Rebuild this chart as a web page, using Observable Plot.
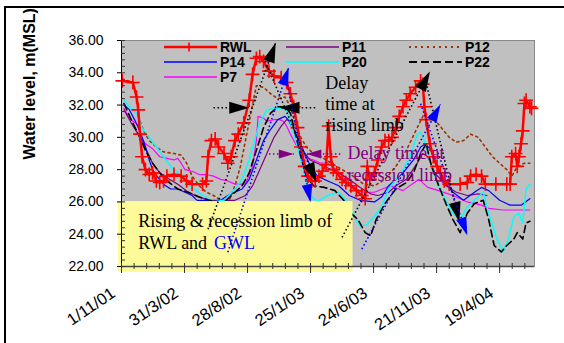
<!DOCTYPE html>
<html><head><meta charset="utf-8">
<script src="https://cdn.jsdelivr.net/npm/d3@7"></script>
<script src="https://cdn.jsdelivr.net/npm/@observablehq/plot@0.6"></script>
<style>
html,body{margin:0;padding:0;background:#fff;}
#chart{position:relative;width:564px;height:343px;overflow:hidden;}
#border{position:absolute;left:4px;top:6px;width:620px;height:400px;border:2px solid #000;pointer-events:none;}
svg{display:block;}
</style></head><body><div id="chart"><div id="border"></div></div>
<script>
// ---- data: [days since 1/11/2001, water level m(MSL)] ----
const startDate = "2001-11-01";
const tickLabels = ["1/11/01","31/3/02","28/8/02","25/1/03","24/6/03","21/11/03","19/4/04"];
const yTicks = [22,24,26,28,30,32,34,36];

const rwl = [[2,33.5],[27,33.4],[36,32.5],[40,31.7],[44,30.2],[49,28.8],[57,28.0],[66,27.7],[74,27.8],[83,27.3],[91,27.2],[100,27.3],[108,27.6],[125,27.7],[142,27.6],[155,27.3],[168,27.1],[193,27.1],[202,27.3],[206,28.8],[214,29.8],[223,29.9],[231,29.4],[244,29.0],[253,28.4],[261,28.8],[270,29.8],[278,30.2],[291,30.9],[304,32.3],[312,33.9],[321,34.9],[329,35.0],[338,34.7],[351,34.1],[363,33.8],[380,33.7],[393,33.4],[402,32.7],[410,31.9],[419,30.6],[427,29.4],[436,28.2],[444,27.6],[453,27.3],[461,27.3],[470,27.6],[478,27.9],[487,28.3],[493,30.7],[498,28.8],[504,28.0],[512,27.8],[525,27.4],[534,27.2],[546,27.0],[559,26.7],[572,26.4],[580,26.2],[585,28.2],[591,27.4],[602,27.8],[610,28.6],[619,29.4],[627,29.8],[636,29.8],[644,30.0],[653,30.6],[661,31.3],[670,31.9],[678,32.3],[687,32.7],[700,33.1],[712,33.5],[717,33.3],[721,31.9],[725,31.1],[734,29.6],[742,28.8],[751,28.2],[759,27.8],[768,27.3],[780,27.1],[806,27.1],[823,27.2],[831,27.6],[844,27.7],[857,27.6],[866,27.1],[891,27.1],[917,27.1],[925,27.1],[929,28.8],[938,29.0],[942,28.2],[946,28.8],[951,29.6],[955,30.4],[959,32.1],[963,32.3],[972,31.9],[976,31.8]];

const p7 = [[6,31.8],[16,31.3],[27,31.0],[38,30.8],[47,30.0],[57,29.6],[74,29.3],[91,28.8],[108,28.7],[125,28.6],[134,28.7],[142,28.4],[151,28.0],[168,27.9],[185,27.7],[202,27.7],[219,27.6],[236,27.4],[253,27.3],[270,27.1],[295,27.1],[312,28.2],[321,29.8],[325,31.3],[338,31.2],[346,31.0],[363,31.1],[376,31.1],[385,31.0],[393,30.7],[402,30.2],[414,29.6],[427,29.0],[444,28.7],[457,28.6],[474,28.4],[491,28.4],[512,28.0],[534,27.4],[555,26.9],[572,26.6],[602,26.6],[640,27.0],[670,26.7],[708,27.4],[729,26.9],[755,26.7],[789,26.4],[823,26.0],[857,25.8],[874,25.6],[908,25.5],[972,25.5]];

const p14 = [[6,32.0],[19,31.7],[31,31.1],[44,30.4],[57,29.4],[66,28.6],[74,28.0],[87,27.5],[100,27.1],[117,26.8],[134,26.8],[151,26.6],[168,26.4],[180,26.1],[202,26.1],[219,26.0],[236,26.1],[253,26.4],[270,26.6],[287,26.8],[304,27.4],[321,28.6],[338,29.8],[355,30.5],[372,31.1],[389,31.3],[397,31.1],[410,30.4],[423,29.8],[436,29.0],[450,28.2],[466,27.6],[491,27.3],[517,27.0],[542,26.4],[568,26.1],[602,26.0],[619,26.3],[636,27.0],[670,27.8],[695,28.6],[712,29.4],[723,29.6],[734,29.3],[746,28.6],[763,27.4],[789,26.6],[814,26.1],[840,26.6],[857,26.9],[874,26.7],[900,26.1],[925,25.8],[951,25.8],[972,26.2]];

const p11 = [[6,31.7],[23,30.9],[49,29.8],[74,28.4],[91,27.8],[108,27.5],[134,27.1],[159,26.6],[185,26.3],[210,26.1],[244,26.1],[270,26.1],[295,26.4],[312,27.0],[329,28.0],[346,29.0],[363,30.0],[380,30.7],[393,31.1],[402,31.0],[414,30.2],[431,29.2],[449,28.6],[466,28.4],[491,28.1],[517,27.8],[542,27.4],[568,26.9],[593,26.5],[610,26.4],[636,26.6],[653,27.0],[678,27.4],[704,28.4],[717,29.0],[729,28.8],[746,27.8],[772,27.0],[797,26.6],[823,26.4],[849,26.5],[870,26.4]];

const p20 = [[6,32.3],[19,31.9],[36,31.5],[49,30.6],[66,30.0],[83,29.4],[100,28.8],[117,28.2],[134,27.8],[151,27.3],[168,26.9],[193,26.4],[219,26.0],[244,26.1],[270,26.8],[287,27.4],[304,28.6],[317,29.8],[329,30.9],[346,31.7],[363,31.8],[380,31.8],[393,31.7],[406,30.6],[419,29.4],[431,28.2],[440,27.2],[449,26.4],[466,26.0],[491,26.4],[517,26.6],[534,26.1],[551,25.3],[568,24.5],[585,24.6],[602,25.1],[619,25.7],[636,26.8],[653,27.4],[670,28.0],[687,28.8],[704,30.2],[712,30.3],[721,29.8],[738,28.2],[755,27.0],[772,26.1],[789,25.3],[806,24.9],[823,25.7],[840,26.1],[861,26.6],[874,25.3],[891,23.9],[908,22.9],[921,23.7],[934,25.1],[946,25.3],[955,24.7],[963,26.8],[972,27.1]];

const p22 = [[6,32.1],[23,31.1],[40,30.2],[57,29.2],[74,28.4],[91,27.8],[108,27.3],[134,26.8],[159,26.6],[185,26.3],[210,26.1],[236,25.9],[249,26.1],[270,26.6],[287,27.0],[304,27.8],[321,29.2],[338,30.6],[355,31.5],[372,31.9],[389,31.9],[402,31.5],[414,30.2],[427,28.8],[440,27.6],[457,27.0],[483,26.9],[508,26.7],[529,26.1],[546,25.3],[563,24.9],[580,24.1],[593,23.9],[606,24.9],[627,25.9],[653,26.8],[678,27.2],[695,27.8],[712,29.0],[725,29.6],[738,28.2],[755,27.0],[772,25.9],[789,24.9],[806,24.1],[823,25.3],[840,25.9],[861,26.1],[874,24.9],[887,23.3],[904,22.9],[917,23.3],[934,23.7],[942,24.1],[955,23.7],[963,24.7],[972,24.8]];

const p12 = [[40,31.3],[53,30.4],[66,29.8],[83,29.4],[100,29.1],[125,29.0],[142,28.9],[155,28.4],[168,27.6],[185,27.0],[202,26.6],[219,26.4],[236,26.1],[253,25.9],[270,27.0],[283,28.2],[295,29.8],[308,31.5],[321,33.2],[338,33.1],[355,32.7],[372,32.4],[389,32.5],[402,31.9],[414,30.8],[427,30.0],[440,29.4],[457,29.0],[474,28.8],[500,28.4],[525,28.0],[551,27.6],[576,27.1],[602,27.0],[627,27.4],[653,28.2],[678,29.2],[704,30.6],[721,31.5],[738,31.3],[755,30.8],[780,30.0],[797,29.7],[814,29.8],[831,30.2],[849,30.0],[866,29.4],[883,28.8],[900,28.4],[917,28.0],[929,27.6],[942,28.2],[959,28.4],[972,28.4]];

// annotation limbs: [fromDay, fromLevel, toDay, toLevel]
const limbsBlack = [[206,24.31,367,35.86],[342,34.73,464,27.2],[525,23.8,734,34.08],[725,33.4,804,24.76],[219,31.83,304,31.83],[461,31.83,376,31.83]];
const limbsBlue = [[253,22.88,398,34.32],[393,33.5,450,25.98],[572,23.08,759,32.04],[712,32.08,823,23.94]];
const limbsPurple = [[351,28.97,410,28.97],[521,28.97,440,28.97]];

// note box and texts: [day, level]
const boxExtent = {d1:-7, d2:551, v1:21.63, v2:26.02};
const boxLine1 = {d:40, v:24.79, text:"Rising & recession limb of"};
const boxLine2a = {d:40, v:23.42, text:"RWL and"};
const boxLine2b = {d:220, v:23.42, text:"GWL"};
const noteRising = {d:485, v:32.1, text:"Delay\ntime at\nrising limb"};
const noteRecession = {d:538, v:28.41, text:"Delay time at\nrecession limb"};

// ---- helpers ----
const START = Date.parse(startDate + "T00:00:00Z");
const day = d => new Date(START + d * 864e5);
const toRows = arr => arr.map(([d, v]) => ({date: day(d), level: v}));
const parseLabel = d3.utcParse("%d/%m/%y");
const majorTicks = tickLabels.map(parseLabel);
const minorTicks = d3.range(0, 990, 30).map(day);
const minorY = d3.range(22, 36.001, 0.4);

const W = 564, H = 343, ML = 121, MR = 30, MT = 40, MB = 77;
const xDomain = [day(0), day(983)];
const sx = d3.scaleUtc(xDomain, [ML, W - MR]);
const sy = d3.scaleLinear([22, 36], [H - MB, MT]);
const limbRows = arr => arr.map(([a, b, c, d]) => ({
  x1: day(a), y1: b, x2: day(c), y2: d,
  angle: Math.atan2(sx(day(c)) - sx(day(a)), -(sy(d) - sy(b))) * 180 / Math.PI
}));
const arrowHead = {draw(ctx, size) {
  const r = Math.sqrt(size / Math.PI);
  const L = 2 * r, w = 0.6 * r;
  ctx.moveTo(0, 0); ctx.lineTo(-w, L); ctx.lineTo(w, L); ctx.closePath();
}};

const series = [
  {name:"P12", data:p12, stroke:"#993300", width:1.6, dash:"2,3.5"},
  {name:"P7", data:p7, stroke:"#ff00ff", width:1.2, dash:null},
  {name:"P11", data:p11, stroke:"#800080", width:1.2, dash:null},
  {name:"P14", data:p14, stroke:"#0000ff", width:1.2, dash:null},
  {name:"P20", data:p20, stroke:"#00ffff", width:1.5, dash:null},
  {name:"P22", data:p22, stroke:"#000000", width:1.6, dash:"7,4"}
];

const serif = "Liberation Serif, Times New Roman, serif";
const limbMarks = (arr, color, r) => {
  const rows = limbRows(arr);
  return [
    Plot.link(rows, {x1:"x1", y1:"y1", x2:"x2", y2:"y2", stroke:color, strokeWidth:1.6, strokeDasharray:"1.5,2.5"}),
    Plot.dot(rows, {x:"x2", y:"y2", symbol:arrowHead, r, fill:color, stroke:"none", rotate:"angle"})
  ];
};

const chart = Plot.plot({
  width: W, height: H, marginLeft: ML, marginRight: MR, marginTop: MT, marginBottom: MB,
  x: {type:"utc", domain: xDomain, axis: null},
  y: {domain: [22, 36], axis: null},
  style: {fontFamily:"Liberation Sans, Arial, sans-serif", fontSize:"14px", background:"transparent", color:"#000", overflow:"visible"},
  marks: [
    Plot.frame({fill:"#c0c0c0", stroke:"#8a8a8a"}),
    ...series.map(s => Plot.line(toRows(s.data), {x:"date", y:"level", stroke:s.stroke, strokeWidth:s.width, strokeDasharray:s.dash})),
    Plot.line(toRows(rwl), {x:"date", y:"level", stroke:"#ff0000", strokeWidth:2.5}),
    Plot.dot(toRows(rwl), {x:"date", y:"level", symbol:"plus", r:4.5, stroke:"#ff0000", strokeWidth:1.6}),
    Plot.rect([boxExtent], {x1: d => day(d.d1), x2: d => day(d.d2), y1:"v1", y2:"v2", fill:"#fdfb99"}),
    ...limbMarks(limbsBlack, "#000000", 10),
    ...limbMarks(limbsBlue, "#0000ff", 9),
    ...limbMarks(limbsPurple, "#800080", 7.5),
    Plot.text([boxLine1, boxLine2a], {x: d => day(d.d), y:"v", text:"text", textAnchor:"start", fontFamily:serif, fontSize:18, fill:"#000"}),
    Plot.text([boxLine2b], {x: d => day(d.d), y:"v", text:"text", textAnchor:"start", fontFamily:serif, fontSize:18, fill:"#0000ff"}),
    Plot.text([noteRising], {x: d => day(d.d), y:"v", text:"text", textAnchor:"start", fontFamily:serif, fontSize:18, lineHeight:1.17, fill:"#000"}),
    Plot.text([noteRecession], {x: d => day(d.d), y:"v", text:"text", textAnchor:"start", fontFamily:serif, fontSize:18, lineHeight:1.2, fill:"#800080"}),
    Plot.ruleX([day(0)], {stroke:"#000", strokeWidth:1}),
    Plot.ruleY([22], {stroke:"#444", strokeWidth:1.5}),
    Plot.axisX({ticks: minorTicks, tickSize: 6, dy: -3, tickFormat: () => "", label: null, stroke:"#333"}),
    Plot.axisX({ticks: majorTicks, tickSize: 7, tickFormat: () => "", label: null, stroke:"#333"}),
    Plot.axisX({ticks: majorTicks, tickSize: 0, tickPadding: 25, dx: -8, tickRotate: -34, tickFormat: (d, i) => tickLabels[i], fontSize: 16.5, label: null}),
    Plot.axisY({ticks: minorY, tickSize: 4, dx: 4, tickFormat: () => "", label: null, stroke:"#333"}),
    Plot.axisY({ticks: yTicks, tickSize: 4, tickPadding: 14, tickFormat: d3.format(".2f"), fontSize: 14, label: null}),
    Plot.text(["Water level, m(MSL)"], {frameAnchor:"left", dx:-92, dy:6, rotate:-90, fontWeight:"bold", fontSize:16})
  ]
});

// ---- legend (inside plot area) ----
const legend = [
  {name:"RWL", col:0, row:0, stroke:"#ff0000", width:2.5, dash:null, marker:true},
  {name:"P11", col:1, row:0, stroke:"#800080", width:1.5, dash:null},
  {name:"P12", col:2, row:0, stroke:"#993300", width:2, dash:"2,4"},
  {name:"P14", col:0, row:1, stroke:"#0000ff", width:1.5, dash:null},
  {name:"P20", col:1, row:1, stroke:"#00ffff", width:1.5, dash:null},
  {name:"P22", col:2, row:1, stroke:"#000000", width:2, dash:"8,4"},
  {name:"P7", col:0, row:2, stroke:"#ff00ff", width:1.5, dash:null}
];
const colX = [164, 286, 409], rowY = [47, 62, 77];
const g = d3.select(chart).append("g");
legend.forEach(it => {
  const x0 = colX[it.col], y0 = rowY[it.row];
  g.append("line").attr("x1", x0).attr("x2", x0 + 53).attr("y1", y0).attr("y2", y0)
    .attr("stroke", it.stroke).attr("stroke-width", it.width).attr("stroke-dasharray", it.dash);
  if (it.marker) g.append("path").attr("d", `M${x0+25},${y0-4.5}v9M${x0+20.5},${y0}h9`).attr("stroke", it.stroke).attr("stroke-width", 1.6);
  g.append("text").attr("x", x0 + 56).attr("y", y0 + 5).text(it.name).attr("text-anchor", "start")
    .attr("font-family", "Liberation Sans, Arial, sans-serif").attr("font-size", 14).attr("font-weight", "bold").attr("fill", "#000");
});

document.getElementById("chart").appendChild(chart);
</script>
</body></html>
